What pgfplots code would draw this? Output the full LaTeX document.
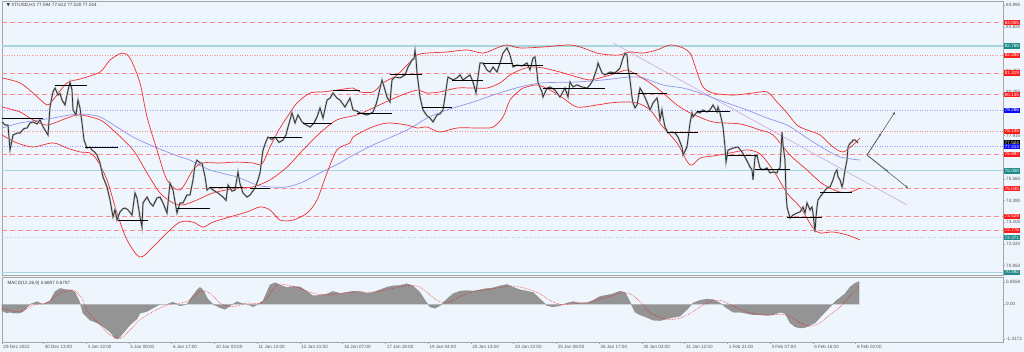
\documentclass[border=0pt]{standalone}
\usepackage{pgfplots}
\pgfplotsset{compat=1.18}
\usepackage{pgfplotstable}
\usepackage{fontspec}
\setmainfont{Liberation Sans}
\newfontfamily\dejavu{DejaVu Sans}
\usetikzlibrary{arrows.meta,calc,backgrounds}
\definecolor{bgc}{HTML}{EEF5FC}
\definecolor{lvlred}{HTML}{FF8C8C}
\definecolor{lvlblue}{HTML}{9A9AFF}
\definecolor{lvlteal}{HTML}{A8D6DE}
\definecolor{tagred}{HTML}{FF1A1A}
\definecolor{tagteal}{HTML}{1F8A8A}
\definecolor{tagblue}{HTML}{0A0AF5}
\definecolor{bbred}{HTML}{F03030}
\definecolor{maBlue}{HTML}{9494F0}
\definecolor{trend}{HTML}{D4AEE0}
\definecolor{candle}{HTML}{2A2A2A}
\newcommand\tf{\fontsize{4.6}{5}\selectfont}
\newcommand\seg[3]{\addplot[black,line width=0.7pt] coordinates {(#1,#3)(#2,#3)};}
\newcommand\lvl[2]{\addplot[#2] coordinates {(2,#1)(1003,#1)};}

\pgfplotstableread{
x y
2 78.66
5 78.50
8 78.49
10 77.13
13 77.95
17 78.05
20 78.06
24 78.30
27 78.33
30 78.60
33 78.66
37 78.55
40 78.77
43 78.40
45 78.22
48 77.95
50 79.47
53 80.30
55 80.50
58 80.12
60 80.20
62 79.85
65 79.58
67 80.12
69 80.60
70 80.83
72 80.40
73 79.31
76 79.04
78 79.85
80 79.42
82 78.60
84 77.68
87 77.24
90 77.30
92 77.13
95 77.00
97 76.86
100 76.43
103 75.67
107 75.13
110 74.42
113 73.50
115 73.90
117 73.33
120 73.77
123 73.95
125 73.98
128 73.88
132 73.60
135 74.80
137 74.53
140 73.50
142 72.95
143 74.26
147 74.58
150 74.26
153 74.09
157 74.53
160 74.58
163 74.26
167 73.71
170 75.34
173 74.96
177 73.71
180 74.26
183 74.26
187 74.69
190 74.69
193 75.51
195 76.30
197 76.59
200 76.43
202 76.43
205 75.70
207 74.96
210 75.10
213 74.96
218 74.80
223 74.58
226 74.40
228 75.23
232 74.90
235 74.96
238 75.94
240 75.30
243 74.80
247 74.58
250 74.69
255 75.07
258 75.50
260 75.89
263 77.13
266 77.60
268 77.84
272 77.70
275 77.84
279 77.55
283 77.68
286 77.95
288 78.38
292 79.15
295 78.60
298 79.04
302 78.66
306 78.50
310 78.38
314 78.60
317 78.93
320 79.42
323 78.87
327 79.85
330 79.95
333 80.23
337 79.95
340 79.85
345 79.47
350 79.96
353 79.31
357 79.25
360 79.15
363 79.10
367 79.04
370 79.10
373 79.20
376 79.60
378 80.01
380 80.50
382 80.94
385 80.40
387 80.01
390 79.74
392 80.94
395 81.10
400 81.05
405 81.21
408 81.64
412 82.02
414 82.10
415 82.55
416 82.10
417 81.32
420 80.01
423 79.31
427 79.00
430 78.87
433 78.66
437 79.04
440 79.10
443 79.31
445 80.01
447 80.78
448 81.10
453 80.94
457 81.05
460 81.21
463 80.94
467 81.10
470 81.21
473 80.83
476 80.23
478 81.10
480 81.86
483 81.86
487 81.48
490 81.37
493 81.64
497 81.37
500 81.86
503 82.40
507 82.68
510 82.30
513 81.64
517 81.75
522 81.70
527 81.86
530 81.48
533 82.13
535 82.19
537 81.32
538 80.78
542 80.29
543 80.01
547 80.50
550 80.56
555 80.39
560 80.01
565 80.50
568 80.01
570 80.83
573 80.56
577 80.67
582 80.56
587 80.50
590 80.67
593 80.94
597 81.59
598 81.86
602 81.32
605 81.21
610 81.37
615 81.32
618 81.48
620 81.59
623 82.13
625 82.40
627 82.30
628 81.64
630 80.94
632 80.01
633 79.69
635 79.42
637 79.58
640 80.50
643 80.23
647 79.74
650 79.31
653 79.69
657 79.96
658 79.69
660 78.77
662 79.31
663 78.93
665 78.38
668 78.06
672 78.11
675 78.06
678 77.84
682 77.30
683 76.86
687 77.30
690 78.60
692 79.15
693 78.93
697 79.20
700 79.15
703 79.31
707 79.20
710 79.31
713 79.58
717 79.20
718 79.47
720 79.15
722 78.66
723 78.38
725 77.30
726 76.48
728 77.13
733 77.24
738 77.30
742 77.03
745 76.75
748 76.43
750 76.21
752 76.05
753 75.51
755 76.75
757 76.86
758 76.59
760 76.16
763 76.05
767 76.16
770 75.89
773 75.94
777 75.89
778 76.05
780 76.16
782 78.11
783 77.41
785 76.59
786 74.80
787 74.04
790 73.44
793 73.60
797 73.71
800 73.77
803 74.04
805 73.71
807 74.26
810 73.88
812 74.04
813 73.71
815 72.68
816 73.50
817 74.04
818 74.42
820 74.58
823 74.80
827 75.07
830 75.13
833 75.51
835 75.89
837 76.05
838 75.67
840 75.51
842 75.13
843 75.34
845 76.05
847 76.59
848 77.30
850 77.50
852 77.57
853 77.68
855 77.68
857 77.57
858 77.52
}\price

\pgfplotstableread{
x y
2 81.05
20 80.78
33 80.23
47 79.58
53 79.85
67 80.78
80 80.99
100 81.37
110 82.02
122 82.40
130 82.13
140 80.78
147 78.93
157 77.14
167 75.51
180 74.96
193 76.05
203 76.43
220 76.43
237 76.48
253 76.43
262 76.37
270 77.30
280 78.33
290 79.15
297 79.69
310 80.23
323 80.29
337 80.39
353 80.50
360 80.29
373 80.29
383 80.78
397 81.21
410 81.92
417 82.30
427 82.40
447 82.46
467 82.57
483 82.40
497 82.68
507 82.84
520 82.68
543 82.73
570 82.84
583 82.68
597 82.40
610 82.30
620 82.30
630 82.46
643 82.40
657 82.57
670 82.84
683 82.68
690 82.40
693 82.02
697 81.37
703 80.56
713 80.23
733 80.12
753 80.23
767 80.29
777 79.74
787 79.15
797 78.49
807 78.22
820 77.95
833 77.30
843 77.03
853 77.41
860 77.79
}\bbup

\pgfplotstableread{
x y
2 79.47
20 79.20
33 78.77
47 78.49
67 78.87
80 79.04
100 78.77
113 78.22
133 77.14
147 75.89
160 74.80
173 74.26
183 74.15
197 74.42
213 74.80
237 75.07
253 75.13
270 75.51
287 76.21
303 77.14
320 78.06
337 78.77
357 79.04
373 79.42
390 79.85
407 80.23
418 80.39
427 80.23
440 80.29
457 80.50
473 80.50
487 80.50
500 80.78
510 81.21
520 81.48
530 81.64
543 81.59
560 81.37
577 81.10
590 80.94
603 81.10
617 81.32
627 81.48
637 81.21
650 80.78
663 80.23
677 79.58
690 79.15
713 78.66
740 78.55
760 78.22
773 77.95
790 76.86
807 76.05
820 75.40
830 75.07
840 74.85
850 74.85
860 75.07
}\bbmid

\pgfplotstableread{
x y
2 77.95
17 77.52
33 77.30
53 77.52
67 77.24
80 77.03
90 76.97
97 76.59
107 75.51
117 73.71
127 72.25
140 71.32
153 71.87
167 72.63
180 73.22
193 73.22
203 72.95
213 73.22
230 73.50
247 73.77
260 74.04
270 73.88
280 73.33
293 73.33
307 73.71
317 74.42
327 75.89
337 77.14
350 77.52
353 77.84
370 78.33
387 78.60
407 78.49
417 78.33
427 78.38
440 78.11
457 78.33
480 78.33
493 78.38
503 78.93
510 79.85
520 80.39
523 80.50
537 80.67
550 80.39
563 79.96
577 79.47
597 79.58
610 79.69
623 79.74
637 79.69
650 79.31
663 78.38
677 77.52
690 76.32
700 76.70
713 76.81
730 76.97
747 77.14
760 76.92
773 76.05
787 74.80
800 74.04
813 72.90
820 72.63
833 72.68
847 72.52
860 72.25
}\bblow

\pgfplotstableread{
x y
2 78.33
20 78.60
40 78.77
53 78.87
70 79.04
83 79.09
100 78.93
117 78.38
133 77.84
150 77.41
167 77.03
180 76.76
190 76.59
210 76.05
237 75.67
257 75.23
270 75.13
287 75.13
303 75.40
320 75.89
340 76.43
350 76.76
373 77.41
407 78.22
427 78.87
447 79.31
473 79.74
493 80.12
520 80.56
543 80.78
577 80.83
603 80.94
630 81.10
643 81.05
663 80.67
683 80.50
700 80.23
727 79.69
747 79.31
767 78.87
787 78.49
807 77.79
823 77.24
840 76.76
860 76.59
}\mablue

\pgfplotstableread{
x y
2 0
2 -0.25
7 -0.33
10 -0.30
13 -0.33
20 -0.33
23 -0.27
30 0
37 0.10
43 0
50 0.13
55 0.48
60 0.60
67 0.55
72 0.54
75 0.45
80 0.06
83 -0.34
90 -0.60
97 -0.70
103 -0.85
110 -1.04
115 -1.29
118 -1.31
123 -1.10
130 -0.78
137 -0.55
140 -0.34
147 -0.27
153 -0.14
160 0
167 0
173 0.08
180 -0.06
187 0
192 0.29
197 0.54
200 0.64
203 0.54
208 0.19
213 0
220 -0.13
225 -0.19
230 -0.06
237 0.10
242 0.03
247 0
253 -0.09
258 0
263 0.13
270 0.73
275 0.82
280 0.73
287 0.64
293 0.68
300 0.66
307 0.48
313 0.32
320 0.35
327 0.39
333 0.49
340 0.41
347 0.45
353 0.50
360 0.48
367 0.42
373 0.45
380 0.55
387 0.65
393 0.70
400 0.72
407 0.78
413 0.70
420 0.45
425 0.15
430 -0.10
435 -0.15
440 -0.05
447 0.20
453 0.40
460 0.50
467 0.52
473 0.50
480 0.55
487 0.60
493 0.62
500 0.70
507 0.75
513 0.65
520 0.55
527 0.50
533 0.45
540 0.20
547 -0.05
553 -0.10
560 -0.05
567 0.05
573 0.10
580 0.05
587 0.05
593 0.15
600 0.30
607 0.35
613 0.40
620 0.50
625 0.45
630 0.10
635 -0.30
640 -0.40
647 -0.50
653 -0.60
660 -0.62
667 -0.55
673 -0.50
680 -0.45
687 -0.20
693 0.05
700 0.15
707 0.20
713 0.18
720 0.05
727 -0.15
733 -0.30
740 -0.30
747 -0.35
753 -0.40
760 -0.40
767 -0.42
773 -0.40
780 -0.30
785 -0.35
790 -0.70
795 -0.85
800 -0.90
805 -0.88
810 -0.80
815 -0.70
820 -0.50
825 -0.30
830 -0.10
835 0.10
840 0.25
845 0.40
850 0.65
855 0.80
859 0.86
859 0
}\macd

\pgfplotstableread{
x y
2 -0.15
20 -0.28
33 -0.03
47 0.06
60 0.42
73 0.54
82 0.23
87 -0.22
100 -0.78
110 -1.16
120 -1.29
127 -1.10
140 -0.59
153 -0.28
167 -0.03
187 0.10
200 0.48
210 0.42
220 0.04
233 -0.09
247 0.04
260 0.04
267 0.23
277 0.73
287 0.73
300 0.61
313 0.42
327 0.35
340 0.42
350 0.45
360 0.47
370 0.46
380 0.50
390 0.58
400 0.66
410 0.72
420 0.65
430 0.35
440 0.10
450 0.10
460 0.30
470 0.45
480 0.52
490 0.57
500 0.63
510 0.70
520 0.65
530 0.55
540 0.40
550 0.15
560 0.00
570 0.00
580 0.05
590 0.08
600 0.20
610 0.30
620 0.42
630 0.40
640 0.10
650 -0.30
660 -0.50
670 -0.58
680 -0.52
690 -0.35
700 -0.10
710 0.10
720 0.15
730 0.00
740 -0.20
750 -0.32
760 -0.38
770 -0.40
780 -0.38
790 -0.45
800 -0.70
810 -0.83
820 -0.70
830 -0.40
840 -0.10
850 0.30
859 0.68
}\signal

\begin{document}
\begin{tikzpicture}[x=1pt,y=1pt,
  tag/.style={anchor=west, inner sep=0pt, minimum height=5.4pt, minimum width=16.5pt, font=\tf, text=white}]
\begin{axis}[
  name=main,
  scale only axis,
  width=1001pt, height=274pt,
  xmin=2, xmax=1003, ymin=70.345, ymax=85.229,
  clip=false,
  axis line style={gray!70, line width=0.6pt},
  xtick=\empty,
  ytick pos=right, yticklabel pos=right,
  tick align=outside, major tick length=2pt,
  ytick style={gray!70, line width=0.4pt},
  ytick={84.995,83.825,81.455,80.285,77.915,75.560,74.390,73.205,72.020,70.850},
  yticklabels={84.995,83.825,81.455,80.285,77.915,75.560,74.390,73.205,72.020,70.850},
  yticklabel style={font=\tf, text=black!65, inner sep=1pt},
]
% horizontal levels
\lvl{84.065}{lvlred, dash pattern=on 5pt off 3pt, line width=0.7pt}
\lvl{82.789}{lvlteal, line width=1.2pt}
\lvl{82.284}{lvlred, dotted, line width=0.5pt}
\lvl{81.319}{lvlred, dash pattern=on 5pt off 3pt, line width=0.7pt}
\lvl{80.135}{lvlred, dash pattern=on 5pt off 3pt, line width=0.7pt}
\lvl{79.286}{lvlblue, dotted, line width=0.5pt}
\lvl{78.145}{lvlred, dotted, line width=0.5pt}
\lvl{77.313}{lvlblue, dotted, line width=0.5pt}
\lvl{76.897}{lvlred, dash pattern=on 5pt off 3pt, line width=0.7pt}
\lvl{76.000}{lvlteal, line width=1.2pt}
\lvl{75.040}{lvlred, dash pattern=on 5pt off 3pt, line width=0.7pt}
\lvl{73.529}{lvlred, dash pattern=on 5pt off 3pt, line width=0.7pt}
\lvl{72.776}{lvlred, dash pattern=on 5pt off 3pt, line width=0.7pt}
\lvl{72.371}{lvlteal, dotted, line width=0.6pt}
\lvl{70.492}{lvlteal, line width=1.2pt}
% trend line
\addplot[trend, line width=0.7pt] coordinates {(613,82.95) (907,74.15)};
% moving average and bands
\addplot[maBlue, line width=0.7pt, smooth] table {\mablue};
\addplot[bbred, line width=0.7pt, smooth] table {\bbup};
\addplot[bbred, line width=0.7pt, smooth] table {\bbmid};
\addplot[bbred, line width=0.7pt, smooth] table {\bblow};
% price
\addplot[gray!55, line width=1.8pt] table {\price};
\addplot[candle, line width=0.7pt] table {\price};
% daily segments
\seg{2}{43}{78.87}
\seg{55}{87}{80.67}
\seg{85}{118}{77.30}
\seg{118}{148}{73.33}
\seg{177}{210}{73.98}
\seg{210}{243}{75.13}
\seg{250}{270}{75.07}
\seg{270}{302}{77.84}
\seg{303}{332}{78.60}
\seg{333}{360}{80.39}
\seg{357}{392}{79.15}
\seg{390}{422}{81.26}
\seg{422}{452}{79.47}
\seg{452}{483}{80.94}
\seg{483}{513}{81.86}
\seg{513}{543}{81.75}
\seg{543}{605}{80.50}
\seg{607}{637}{81.32}
\seg{638}{667}{80.23}
\seg{667}{698}{78.11}
\seg{697}{730}{79.25}
\seg{727}{757}{76.86}
\seg{755}{790}{76.10}
\seg{787}{822}{73.50}
\seg{820}{852}{74.85}
% forecast arrows
\draw[gray!75!black, line width=0.6pt, -{Stealth[length=3pt,width=2.6pt]}] (axis cs:867,76.86) -- (axis cs:895,79.20);
\draw[gray!75!black, line width=0.6pt, -{Stealth[length=3pt,width=2.6pt]}] (axis cs:867,76.86) -- (axis cs:908,75.07);
\draw[gray!75!black, line width=0.6pt, -{Stealth[length=2.5pt,width=2.2pt]}] (axis cs:867,76.86) -- (axis cs:881,78.03);
\draw[gray!75!black, line width=0.6pt, -{Stealth[length=2.5pt,width=2.2pt]}] (axis cs:867,76.86) -- (axis cs:888,75.97);
% price tags
\node[tag, fill=tagred] at (axis cs:1003.5,84.065) {84.065};
\node[tag, fill=tagteal] at (axis cs:1003.5,82.789) {82.789};
\node[tag, fill=tagred] at (axis cs:1003.5,82.284) {82.284};
\node[tag, fill=tagred] at (axis cs:1003.5,81.319) {81.319};
\node[tag, fill=tagred] at (axis cs:1003.5,80.135) {80.135};
\node[tag, fill=tagblue] at (axis cs:1003.5,79.286) {79.286};
\node[tag, fill=tagred] at (axis cs:1003.5,78.145) {78.145};
\node[tag, fill=black] at (axis cs:1003.5,77.524) {77.524};
\node[tag, fill=tagblue] at (axis cs:1003.5,77.313) {77.313};
\node[tag, fill=tagred] at (axis cs:1003.5,76.897) {76.897};
\node[tag, fill=tagteal] at (axis cs:1003.5,76.000) {76.000};
\node[tag, fill=tagred] at (axis cs:1003.5,75.040) {75.040};
\node[tag, fill=tagred] at (axis cs:1003.5,73.529) {73.529};
\node[tag, fill=tagred] at (axis cs:1003.5,72.776) {72.776};
\node[tag, fill=tagteal] at (axis cs:1003.5,72.371) {72.371};
\node[tag, fill=tagteal] at (axis cs:1003.5,70.492) {70.492};
\end{axis}

\begin{axis}[
  at={(main.south west)}, anchor=north west, yshift=-2pt,
  scale only axis,
  width=1001pt, height=65pt,
  xmin=2, xmax=1003, ymin=-1.428, ymax=1.034,
  axis line style={gray!70, line width=0.6pt},
  ytick pos=right, yticklabel pos=right,
  xtick pos=left,
  tick align=outside, major tick length=2pt,
  tick style={gray!70, line width=0.4pt},
  ytick={-1.3172,0,0.8558},
  yticklabels={-1.3172,0.00,0.8558},
  yticklabel style={font=\tf, text=black!65, inner sep=1pt},
  xtick={2,43.25,86,128.75,171.5,214.25,257,299.75,342.5,385.25,428,470.75,513.5,556.25,599,641.75,684.5,727.25,770,812.75,855.5},
  xticklabels={29 Dec 2022,30 Dec 13:00,3 Jan 22:00,5 Jan 08:00,6 Jan 17:00,10 Jan 03:00,11 Jan 12:00,12 Jan 21:00,16 Jan 07:00,17 Jan 18:00,19 Jan 04:00,20 Jan 13:00,23 Jan 22:00,25 Jan 08:00,26 Jan 17:00,30 Jan 03:00,31 Jan 12:00,1 Feb 21:00,3 Feb 07:00,6 Feb 16:00,8 Feb 02:00},
  xticklabel style={font=\tf, text=black!65, anchor=north west, inner sep=0.8pt, xshift=0.5pt},
]
\addplot[fill=black!42, draw=black!50, line width=0.2pt] table {\macd};
\addplot[red, densely dotted, line width=0.5pt, smooth] table {\signal};
\end{axis}
\node[anchor=west, font=\tf, text=black!75] at ($(main.south west)+(1,270)$) {{\dejavu ▼} XTIUSD,H1 77.594 77.612 77.520 77.524};
\node[anchor=west, font=\tf, text=black!75] at ($(main.south west)+(2,-8)$) {MACD(12,26,9) 0.6897 0.6787};
\begin{scope}[on background layer]
\fill[bgc] ($(main.south west)+(-2,-77)$) rectangle ++(1024,352);
\end{scope}
\pgfresetboundingbox
\path ($(main.south west)+(-2,-77)$) rectangle ++(1024,352);
\end{tikzpicture}
\end{document}
